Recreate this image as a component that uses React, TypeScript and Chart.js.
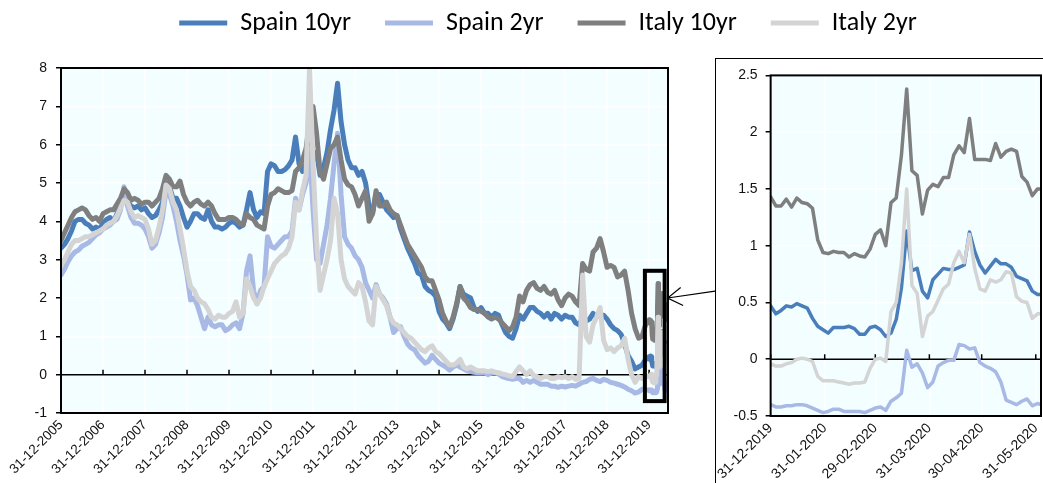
import React, { useEffect, useRef } from "react";
import { Chart, registerables } from "chart.js";

Chart.register(...registerables);

// ---------- series ----------
const SERIES_NAMES = ["Spain 10yr", "Spain 2yr", "Italy 10yr", "Italy 2yr"];
const SERIES_COLORS = ["#4A7EBB", "#A7B9E4", "#7F7F7F", "#D4D4D4"];

// month-end values, Dec-2005 .. Nov-2019 (one row per year)
const spain10Monthly = [
  3.3,
  3.4, 3.55, 3.75, 4.0, 4.05, 4.05, 3.95, 3.9, 3.8, 3.85, 3.8, 3.95,
  4.05, 4.1, 4.0, 4.2, 4.4, 4.6, 4.5, 4.4, 4.35, 4.4, 4.3, 4.35,
  4.2, 4.1, 4.15, 4.3, 4.5, 5.0, 4.9, 4.6, 4.6, 4.4, 4.1, 3.85,
  4.0, 4.2, 4.2, 4.1, 4.05, 4.3, 4.0, 3.85, 3.85, 3.8, 3.85, 3.95,
  4.0, 3.95, 3.85, 3.9, 4.3, 4.75, 4.3, 4.1, 4.25, 4.2, 5.3, 5.5,
  5.45, 5.3, 5.3, 5.35, 5.45, 5.6, 6.2, 5.5, 5.3, 5.5, 6.4, 5.6,
  5.8, 5.2, 5.4, 5.8, 6.4, 6.9, 7.6, 6.6, 6.0, 5.6, 5.4, 5.4,
  5.2, 5.3, 5.0, 4.4, 4.2, 4.7, 4.7, 4.5, 4.3, 4.2, 4.1, 4.15,
  3.8, 3.55, 3.3, 3.1, 2.9, 2.65, 2.6, 2.3, 2.2, 2.15, 2.05, 1.65,
  1.45, 1.35, 1.2, 1.45, 1.8, 2.3, 2.1, 2.05, 2.0, 1.75, 1.65, 1.75,
  1.6, 1.6, 1.5, 1.6, 1.55, 1.3, 1.1, 1.0, 0.95, 1.2, 1.55, 1.45,
  1.6, 1.75, 1.75, 1.65, 1.6, 1.5, 1.6, 1.45, 1.6, 1.55, 1.45, 1.55,
  1.5, 1.5, 1.35, 1.3, 1.5, 1.4, 1.45, 1.6, 1.5, 1.55, 1.55, 1.45,
  1.3, 1.2, 1.15, 1.05, 0.8, 0.5, 0.35, 0.15, 0.2, 0.25, 0.4,
];
const spain2Monthly = [
  2.6,
  2.75, 2.95, 3.1, 3.2, 3.25, 3.35, 3.4, 3.45, 3.55, 3.65, 3.7, 3.8,
  3.85, 3.9, 4.0, 4.05, 4.3, 4.9, 4.4, 4.1, 3.95, 3.95, 3.9, 3.8,
  3.6, 3.3, 3.4, 3.7, 4.1, 4.8, 4.7, 4.4, 4.0, 3.5, 3.1, 2.6,
  1.95, 2.0, 1.8, 1.5, 1.2, 1.5, 1.3, 1.25, 1.3, 1.3, 1.15, 1.2,
  1.3, 1.35, 1.2, 1.6, 2.7, 3.1, 2.2, 1.85, 2.2, 2.3, 3.6, 3.35,
  3.3, 3.4, 3.5, 3.6, 3.6, 3.75, 4.6, 4.3, 4.7, 5.0, 5.9, 4.3,
  3.0, 2.9, 3.4, 3.9, 4.6, 5.5, 6.3, 4.7, 3.6, 3.4, 3.3, 3.1,
  3.0, 2.8, 2.4, 2.2, 2.0, 2.35, 2.1, 2.0, 1.85, 1.5, 1.1, 1.2,
  1.25, 1.0, 0.8, 0.7, 0.65, 0.5, 0.4, 0.3, 0.35, 0.5, 0.4, 0.3,
  0.25, 0.2, 0.12, 0.2, 0.25, 0.2, 0.15, 0.1, 0.08, 0.06, 0.05, 0.05,
  0.06, 0.0, 0.05, 0.06, 0.02, -0.05, -0.08, -0.1, -0.12, -0.1, -0.1, -0.2,
  -0.15, -0.2, -0.15, -0.2, -0.25, -0.25, -0.25, -0.3, -0.3, -0.33, -0.3, -0.32,
  -0.3, -0.28, -0.3, -0.25, -0.2, -0.18, -0.12, -0.1, -0.15, -0.18, -0.12, -0.15,
  -0.2, -0.22, -0.25, -0.28, -0.32, -0.38, -0.42, -0.48, -0.45, -0.38, -0.4,
];
const italy10Monthly = [
  3.5,
  3.7, 3.9, 4.1, 4.25, 4.3, 4.35, 4.3, 4.15, 4.05, 4.1, 4.0, 4.2,
  4.25, 4.3, 4.3, 4.45, 4.6, 4.85, 4.75, 4.55, 4.6, 4.55, 4.45, 4.5,
  4.5, 4.4, 4.5, 4.6, 4.85, 5.2, 5.1, 4.9, 4.9, 5.05, 4.7, 4.5,
  4.4, 4.5, 4.55, 4.45, 4.4, 4.5, 4.4, 4.2, 4.05, 4.05, 4.05, 4.1,
  4.1, 4.05, 3.95, 3.9, 4.2, 4.1, 4.05, 3.9, 3.85, 3.8, 4.4, 4.7,
  4.75, 4.85, 4.8, 4.75, 4.75, 4.8, 5.3, 5.4, 5.6, 5.9, 6.6, 7.0,
  6.3, 5.3, 5.1, 5.5, 5.9, 6.0, 6.2, 5.6, 5.1, 4.95, 4.9, 4.7,
  4.4, 4.6, 4.8, 4.0, 4.2, 4.8, 4.4, 4.4, 4.5, 4.3, 4.2, 4.15,
  3.9, 3.65, 3.4, 3.25, 3.1, 2.95, 2.8, 2.55, 2.45, 2.45, 2.2, 1.95,
  1.6, 1.4, 1.25, 1.5, 1.85, 2.3, 2.0, 1.9, 1.75, 1.7, 1.7, 1.65,
  1.6, 1.5, 1.45, 1.5, 1.45, 1.35, 1.25, 1.15, 1.25, 1.5, 2.05, 1.9,
  2.2, 2.35, 2.4, 2.25, 2.2, 2.3, 2.15, 2.1, 2.2, 1.95, 1.8, 2.0,
  2.1, 2.05, 1.9, 1.8, 2.9, 2.75, 2.7, 3.2, 3.3, 3.55, 3.2, 2.8,
  2.85, 2.8, 2.55, 2.6, 2.7, 2.2, 1.6, 1.2, 0.95, 1.0, 1.3,
];
const italy2Monthly = [
  2.85,
  3.0, 3.2, 3.4, 3.5, 3.5, 3.55, 3.6, 3.6, 3.65, 3.7, 3.75, 3.8,
  3.9, 3.95, 4.0, 4.15, 4.35, 4.55, 4.5, 4.25, 4.1, 4.15, 4.1, 4.05,
  3.8, 3.4, 3.5, 3.85, 4.3, 4.95, 4.85, 4.5, 4.3, 3.8, 3.3, 2.7,
  2.3, 2.2, 2.0, 1.9, 1.85, 1.7, 1.5, 1.45, 1.55, 1.5, 1.5, 1.6,
  1.65, 1.9, 1.5, 1.6, 2.5, 2.3, 2.0, 1.85, 2.0, 2.3, 2.5, 2.7,
  2.9, 3.0, 3.1, 3.15, 3.3, 3.6, 4.5, 4.3, 4.8, 5.2, 8.0, 5.5,
  3.5, 2.2, 2.6, 3.0, 3.5, 4.6, 4.2, 3.0, 2.5, 2.3, 2.2, 2.1,
  2.4, 2.3, 1.9, 1.4, 1.3, 2.3, 2.1, 1.95, 1.8, 1.5, 1.35, 1.3,
  1.2, 1.1, 1.0, 0.95, 0.85, 0.75, 0.65, 0.6, 0.7, 0.75, 0.6, 0.55,
  0.45, 0.35, 0.25, 0.25, 0.3, 0.4, 0.2, 0.15, 0.2, 0.15, 0.1, 0.1,
  0.1, 0.08, 0.1, 0.06, 0.05, 0.02, 0.0, -0.03, -0.05, 0.08, 0.2, 0.1,
  0.0, 0.1, -0.02, -0.05, -0.1, -0.05, -0.05, -0.1, -0.1, -0.05, -0.08, -0.05,
  -0.1, -0.05, -0.12, -0.1, 2.6, 1.0, 0.85, 1.3, 1.5, 1.75, 0.9, 0.65,
  0.7, 0.6, 0.7, 0.75, 0.95, 0.4, 0.0, -0.2, -0.05, -0.1, -0.05,
];

// inset: days after 31-12-2019
const insetDays = [
  0, 3, 6, 9, 12, 15, 18, 21, 24, 27,
  30, 33, 36, 39, 42, 45, 48, 51, 54, 57,
  60, 63, 66, 69, 72, 75, 78, 81, 84, 87,
  90, 93, 96, 99, 102, 105, 108, 111, 114, 117,
  120, 123, 126, 129, 132, 135, 138, 141, 144, 147,
  150, 153, 155,
];
const spain10Daily = [
  0.47, 0.4, 0.43, 0.47, 0.46, 0.49, 0.47, 0.45, 0.36, 0.29,
  0.26, 0.23, 0.28, 0.28, 0.28, 0.29, 0.27, 0.22, 0.22, 0.28,
  0.29, 0.26, 0.2, 0.23, 0.35, 0.63, 1.13, 0.78, 0.8, 0.6,
  0.54, 0.7, 0.75, 0.8, 0.79, 0.79, 0.81, 0.83, 1.12, 0.95,
  0.83, 0.76, 0.82, 0.88, 0.84, 0.84, 0.81, 0.73, 0.71, 0.69,
  0.6, 0.57, 0.57,
];
const spain2Daily = [
  -0.4, -0.42, -0.42, -0.41, -0.41, -0.4, -0.4, -0.41, -0.43, -0.45,
  -0.47, -0.46, -0.44, -0.44, -0.46, -0.46, -0.46, -0.46, -0.47, -0.45,
  -0.43, -0.42, -0.45, -0.37, -0.34, -0.3, 0.08, -0.07, -0.04, -0.12,
  -0.25, -0.2, -0.06, -0.03, -0.01, -0.01, 0.13, 0.12, 0.09, 0.1,
  -0.03, -0.06, -0.08, -0.11, -0.2, -0.36, -0.38, -0.4, -0.37, -0.35,
  -0.41, -0.39, -0.4,
];
const italy10Daily = [
  1.43, 1.35, 1.35, 1.41, 1.34, 1.42, 1.38, 1.37, 1.33, 1.05,
  0.94, 0.93, 0.95, 0.94, 0.94, 0.9, 0.93, 0.91, 0.9, 0.97,
  1.1, 1.14, 1.0, 1.38, 1.42, 1.8, 2.38, 1.66, 1.62, 1.28,
  1.49, 1.54, 1.52, 1.6, 1.6, 1.8, 1.88, 1.82, 2.12, 1.76,
  1.76, 1.76, 1.75, 1.9, 1.78, 1.83, 1.85, 1.83, 1.61, 1.56,
  1.44, 1.5, 1.5,
];
const italy2Daily = [
  -0.04, -0.06, -0.06, -0.04, -0.03, 0.0, 0.01, 0.0, -0.02, -0.15,
  -0.19, -0.19, -0.19, -0.2, -0.21, -0.22, -0.21, -0.21, -0.2, -0.08,
  0.0, 0.01, -0.02, 0.42, 0.5, 0.85, 1.5, 0.65, 0.58, 0.2,
  0.38, 0.42, 0.52, 0.62, 0.66, 0.85, 0.95, 0.85, 1.1, 0.8,
  0.62, 0.6, 0.7, 0.68, 0.7, 0.77, 0.76, 0.55, 0.51, 0.5,
  0.36, 0.4, 0.4,
];

// ---------- axes ----------
const MAIN_TICK_YEARS = [0, 1, 2, 3, 4, 5, 6, 7, 8, 9, 10, 11, 12, 13, 14];
const MAIN_TICK_LABELS = [
  "31-12-2005", "31-12-2006", "31-12-2007", "31-12-2008", "31-12-2009",
  "31-12-2010", "31-12-2011", "31-12-2012", "31-12-2013", "31-12-2014",
  "31-12-2015", "31-12-2016", "31-12-2017", "31-12-2018", "31-12-2019",
];
const MAIN_Y_TICKS = [-1, 0, 1, 2, 3, 4, 5, 6, 7, 8];
const MAIN_X_MAX = 14.45;
const INSET_TICK_DAYS = [0, 31, 60, 91, 121, 152];
const INSET_TICK_LABELS = [
  "31-12-2019", "31-01-2020", "29-02-2020", "31-03-2020", "30-04-2020", "31-05-2020",
];
const INSET_Y_TICKS = [-0.5, 0, 0.5, 1, 1.5, 2, 2.5];
const INSET_X_MAX = 155;
const DAYS_IN_2020 = 366;

const HIGHLIGHT_X = [13.9, 14.37];
const HIGHLIGHT_Y = [-0.69, 2.71];
const ARROW_TIP_VALUE = 2.0;
const ARROW_TAIL_VALUE = 2.18;

// ---------- layout / style ----------
const PAGE_W = 1043;
const PAGE_H = 483;
const MAIN_SHIFT_Y = 24;
const MAIN_W = 1096;
const MAIN_H = PAGE_H + MAIN_SHIFT_Y;
const MAIN_PLOT_LEFT = 61;
const MAIN_PLOT_RIGHT = 668;
const MAIN_PLOT_BOTTOM = 413 + MAIN_SHIFT_Y;
const LEGEND_GAP = 22;
const INSET_BOX_LEFT = 715;
const INSET_BOX_TOP = 58;
const INSET_LEFT = 716;
const INSET_TOP = 59;
const INSET_W = 340;
const INSET_H = PAGE_H - INSET_TOP;
const INSET_PLOT_LEFT = 53;
const INSET_PLOT_TOP = 16;
const INSET_PLOT_BOTTOM = 357;
const INSET_PAD_RIGHT = 15;

const PLOT_BG = "#F2FEFF";
const AXIS_FONT = "'Liberation Sans', Arial, Helvetica, sans-serif";
const LEGEND_FONT = "Carlito, Lato, 'Open Sans', sans-serif";
const TEXT_COLOR = "#111";

function toMainPoints(monthly: number[], daily: number[]) {
  const pts = monthly.map((v, i) => ({ x: i / 12, y: v }));
  daily.forEach((v, j) => pts.push({ x: 14 + insetDays[j] / DAYS_IN_2020, y: v }));
  return pts;
}
function toInsetPoints(daily: number[]) {
  return daily.map((v, j) => ({ x: insetDays[j], y: v }));
}

const MAIN_SERIES = [
  toMainPoints(spain10Monthly, spain10Daily),
  toMainPoints(spain2Monthly, spain2Daily),
  toMainPoints(italy10Monthly, italy10Daily),
  toMainPoints(italy2Monthly, italy2Daily),
];
const INSET_SERIES = [
  toInsetPoints(spain10Daily),
  toInsetPoints(spain2Daily),
  toInsetPoints(italy10Daily),
  toInsetPoints(italy2Daily),
];

function makeDatasets(series: { x: number; y: number }[][], width: number) {
  return series.map((data, i) => ({
    label: SERIES_NAMES[i],
    data,
    borderColor: SERIES_COLORS[i],
    backgroundColor: SERIES_COLORS[i],
    borderWidth: width,
    pointRadius: 0,
    tension: 0,
    borderJoinStyle: "round" as const,
    borderCapStyle: "round" as const,
    clip: 0,
    order: SERIES_NAMES.length - i,
  }));
}

function framePlugin(id: string, tickValues: number[], extra?: (chart: any) => void, after?: (chart: any) => void) {
  return {
    id,
    beforeDraw(chart: any) {
      const { ctx, chartArea: a } = chart;
      ctx.save();
      ctx.fillStyle = PLOT_BG;
      ctx.fillRect(a.left, a.top, a.right - a.left, a.bottom - a.top);
      ctx.restore();
    },
    beforeDatasetsDraw(chart: any) {
      const { ctx, chartArea: a, scales } = chart;
      const y0 = scales.y.getPixelForValue(0);
      ctx.save();
      ctx.strokeStyle = "#000";
      ctx.lineWidth = 1.5;
      ctx.beginPath();
      ctx.moveTo(a.left, y0);
      ctx.lineTo(a.right, y0);
      tickValues.forEach((t) => {
        const px = scales.x.getPixelForValue(t);
        ctx.moveTo(px, y0);
        ctx.lineTo(px, y0 - 5);
      });
      ctx.stroke();
      ctx.restore();
    },
    afterDatasetsDraw(chart: any) {
      const { ctx, chartArea: a } = chart;
      ctx.save();
      ctx.strokeStyle = "#000";
      ctx.lineWidth = 2;
      ctx.strokeRect(a.left, a.top, a.right - a.left, a.bottom - a.top);
      ctx.restore();
      if (extra) extra(chart);
    },
    afterDraw(chart: any) {
      if (after) after(chart);
    },
  };
}

function drawHighlight(chart: any) {
  const { ctx, scales } = chart;
  const x0 = scales.x.getPixelForValue(HIGHLIGHT_X[0]);
  const x1 = scales.x.getPixelForValue(HIGHLIGHT_X[1]);
  const y0 = scales.y.getPixelForValue(HIGHLIGHT_Y[1]);
  const y1 = scales.y.getPixelForValue(HIGHLIGHT_Y[0]);
  ctx.save();
  ctx.strokeStyle = "#000";
  ctx.lineWidth = 4;
  ctx.strokeRect(x0, y0, x1 - x0, y1 - y0);
  ctx.restore();
}

function drawArrow(chart: any) {
  const { ctx, scales } = chart;
  const tipX = scales.x.getPixelForValue(HIGHLIGHT_X[1]) + 3;
  const tipY = scales.y.getPixelForValue(ARROW_TIP_VALUE);
  const tailX = INSET_BOX_LEFT;
  const tailY = scales.y.getPixelForValue(ARROW_TAIL_VALUE);
  ctx.save();
  ctx.strokeStyle = "#000";
  ctx.lineWidth = 1.2;
  ctx.beginPath();
  ctx.moveTo(tailX, tailY);
  ctx.lineTo(tipX, tipY);
  ctx.moveTo(tipX + 13, tipY - 10.5);
  ctx.lineTo(tipX, tipY);
  ctx.lineTo(tipX + 15.5, tipY + 7.5);
  ctx.stroke();
  ctx.restore();
}

export default function App() {
  const mainRef = useRef<HTMLCanvasElement | null>(null);
  const insetRef = useRef<HTMLCanvasElement | null>(null);

  useEffect(() => {
    document.body.style.margin = "0";
    const gridOpts = { color: "#FFFFFF", lineWidth: 1.5 };
    const spacerAxis = (position: string, size: number) => ({
      type: "linear",
      position,
      display: true,
      grid: { display: false },
      ticks: { display: false },
      border: { display: false },
      afterFit: (ax: any) => {
        if (position === "top") ax.height = size;
        else ax.width = size;
      },
    });

    const main = new Chart(mainRef.current as HTMLCanvasElement, {
      type: "line",
      data: { datasets: makeDatasets(MAIN_SERIES, 5) as any },
      options: {
        responsive: false,
        animation: false,
        devicePixelRatio: 1,
        layout: { padding: { top: 0, bottom: 0, left: 0, right: 0 } },
        plugins: {
          tooltip: { enabled: false },
          legend: {
            position: "top",
            labels: {
              boxWidth: 48,
              boxHeight: 5,
              padding: 34,
              color: "#000",
              font: { family: LEGEND_FONT, size: 26 },
              generateLabels: (chart: any) =>
                chart.data.datasets.map((ds: any, i: number) => ({
                  text: ds.label,
                  fillStyle: ds.borderColor,
                  strokeStyle: ds.borderColor,
                  lineWidth: 0,
                  hidden: false,
                  datasetIndex: i,
                })),
            },
          },
        },
        scales: {
          x: {
            type: "linear",
            min: 0,
            max: MAIN_X_MAX,
            afterBuildTicks: (ax: any) => {
              ax.ticks = MAIN_TICK_YEARS.map((v) => ({ value: v }));
            },
            afterFit: (ax: any) => {
              ax.height = MAIN_H - MAIN_PLOT_BOTTOM;
            },
            ticks: {
              autoSkip: false,
              minRotation: 45,
              maxRotation: 45,
              padding: 4,
              color: TEXT_COLOR,
              font: { family: AXIS_FONT, size: 13.5 },
              callback: (_v: any, i: number) => MAIN_TICK_LABELS[i],
            },
            grid: { ...gridOpts, drawTicks: false },
            border: { display: false },
          },
          xTop: spacerAxis("top", LEGEND_GAP),
          y: {
            type: "linear",
            min: -1,
            max: 8,
            afterBuildTicks: (ax: any) => {
              ax.ticks = MAIN_Y_TICKS.map((v) => ({ value: v }));
            },
            afterFit: (ax: any) => {
              ax.width = MAIN_PLOT_LEFT;
            },
            ticks: {
              padding: 9,
              color: TEXT_COLOR,
              font: { family: AXIS_FONT, size: 14 },
              callback: (v: any) => String(v),
            },
            grid: { ...gridOpts, tickColor: "#000", tickLength: 5, tickWidth: 1.5 },
            border: { display: false },
          },
          yR: spacerAxis("right", MAIN_W - MAIN_PLOT_RIGHT),
        },
      } as any,
      plugins: [framePlugin("mainFrame", MAIN_TICK_YEARS, drawHighlight, drawArrow)],
    });

    const inset = new Chart(insetRef.current as HTMLCanvasElement, {
      type: "line",
      data: { datasets: makeDatasets(INSET_SERIES, 3.5) as any },
      options: {
        responsive: false,
        animation: false,
        devicePixelRatio: 1,
        layout: { padding: { top: INSET_PLOT_TOP, bottom: 0, left: 0, right: INSET_PAD_RIGHT } },
        plugins: { tooltip: { enabled: false }, legend: { display: false } },
        scales: {
          x: {
            type: "linear",
            min: 0,
            max: INSET_X_MAX,
            afterBuildTicks: (ax: any) => {
              ax.ticks = INSET_TICK_DAYS.map((v) => ({ value: v }));
            },
            afterFit: (ax: any) => {
              ax.height = INSET_H - INSET_PLOT_BOTTOM;
            },
            ticks: {
              autoSkip: false,
              minRotation: 45,
              maxRotation: 45,
              padding: 4,
              color: TEXT_COLOR,
              font: { family: AXIS_FONT, size: 14 },
              callback: (_v: any, i: number) => INSET_TICK_LABELS[i],
            },
            grid: { ...gridOpts, drawTicks: false },
            border: { display: false },
          },
          y: {
            type: "linear",
            min: -0.5,
            max: 2.5,
            afterBuildTicks: (ax: any) => {
              ax.ticks = INSET_Y_TICKS.map((v) => ({ value: v }));
            },
            afterFit: (ax: any) => {
              ax.width = INSET_PLOT_LEFT;
            },
            ticks: {
              padding: 8,
              color: TEXT_COLOR,
              font: { family: AXIS_FONT, size: 14 },
              callback: (v: any) => String(v),
            },
            grid: { ...gridOpts, tickColor: "#000", tickLength: 5, tickWidth: 1.5 },
            border: { display: false },
          },
        },
      } as any,
      plugins: [framePlugin("insetFrame", INSET_TICK_DAYS)],
    });

    return () => {
      main.destroy();
      inset.destroy();
    };
  }, []);

  return (
    <div
      style={{
        position: "fixed",
        left: 0,
        top: 0,
        width: PAGE_W,
        height: PAGE_H,
        overflow: "hidden",
        background: "#fff",
      }}
    >
      <canvas
        ref={mainRef}
        width={MAIN_W}
        height={MAIN_H}
        style={{ position: "absolute", left: 0, top: -MAIN_SHIFT_Y }}
      />
      <div
        style={{
          position: "absolute",
          left: INSET_BOX_LEFT,
          top: INSET_BOX_TOP,
          width: 500,
          height: 600,
          borderLeft: "1px solid #000",
          borderTop: "1px solid #000",
        }}
      />
      <canvas
        ref={insetRef}
        width={INSET_W}
        height={INSET_H}
        style={{ position: "absolute", left: INSET_LEFT, top: INSET_TOP }}
      />
    </div>
  );
}
